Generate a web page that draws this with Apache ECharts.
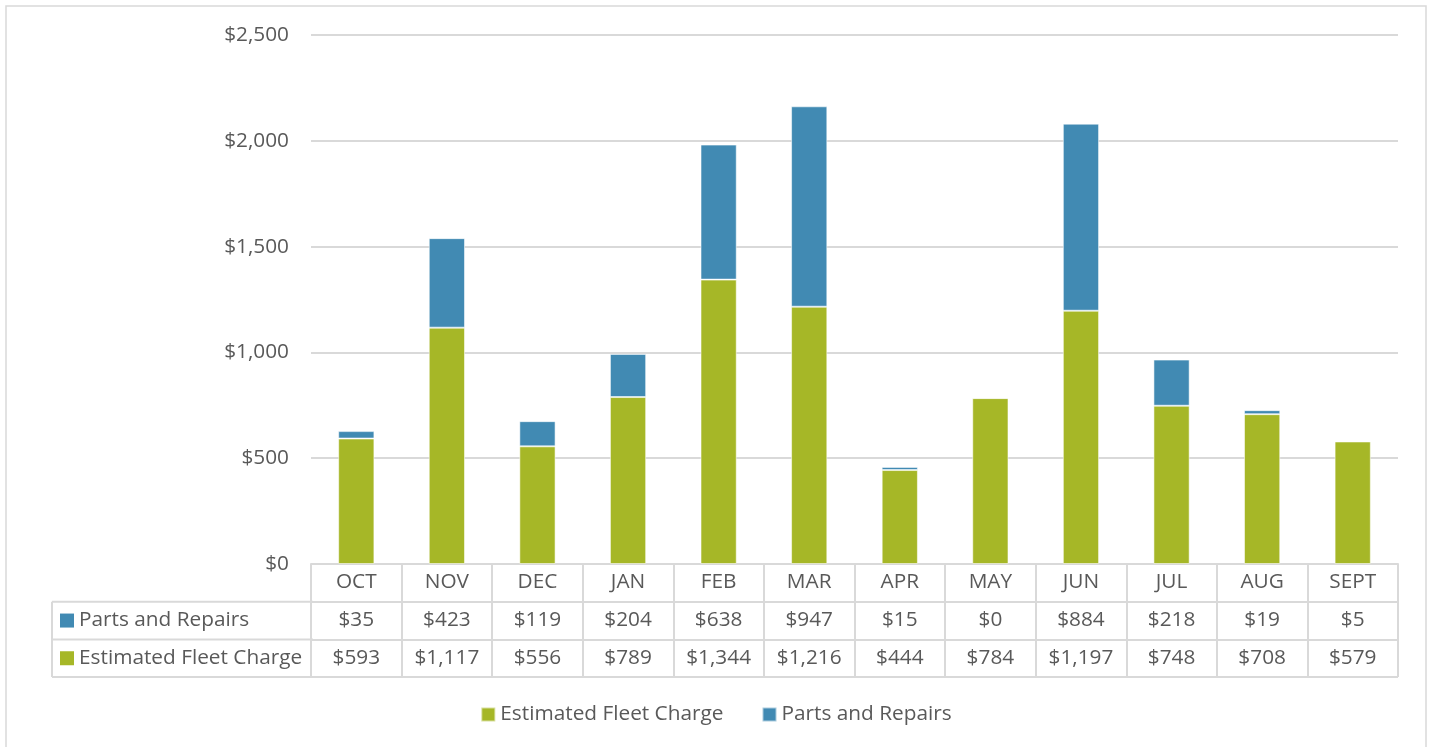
<!DOCTYPE html>
<html>
<head>
<meta charset="utf-8">
<script src="https://cdn.jsdelivr.net/npm/echarts@6/dist/echarts.min.js"></script>
<style>
html,body{margin:0;padding:0;background:#fff;}
#c{width:1432px;height:747px;}
</style>
</head>
<body>
<div id="c"></div>
<script>
var categories = ['OCT','NOV','DEC','JAN','FEB','MAR','APR','MAY','JUN','JUL','AUG','SEPT'];
var partsRepairs = [35, 423, 119, 204, 638, 947, 15, 0, 884, 218, 19, 5];
var fleetCharge = [593, 1117, 556, 789, 1344, 1216, 444, 784, 1197, 748, 708, 579];
var yTicks = [0, 500, 1000, 1500, 2000, 2500];

var FONT = 'Open Sans';
var FS = 20.8;
var TXT = '#595959';
var LINE = '#d9d9d9';
var GREEN = '#A6B727';
var BLUE = '#418AB3';

var gridLeft = 311, gridRight = 34, gridTop = 35, gridBottom = 183;
var W = 1432, H = 747;
var rowH = 37.7;
var tableLeft = 52;
var axisY = H - gridBottom;

function money(v){ return '$' + v.toLocaleString('en-US'); }

var chart = echarts.init(document.getElementById('c'), null, {renderer:'canvas'});

function rowAxis(offset, values){
  return {
    type:'category', data: categories, position:'bottom', offset: offset,
    axisLine:{show:true, lineStyle:{color:LINE, width:2}},
    axisTick:{show:true, length: rowH, interval:0, lineStyle:{color:LINE, width:2}},
    axisLabel:{interval:0, margin: 8, color:TXT, fontFamily:FONT, fontSize:FS,
      formatter: values ? function(v, i){ return money(values[i]); } : null},
    splitLine:{show:false}
  };
}

var yr = axisY + rowH; // top of row 1
var font = FS + 'px "Open Sans"';
var g = [
  {type:'rect', shape:{x:6, y:6, width:1420, height:760}, style:{fill:null, stroke:LINE, lineWidth:1.5}, silent:true},
  {type:'line', shape:{x1:tableLeft, y1:yr, x2:gridLeft+2, y2:yr}, style:{stroke:LINE, lineWidth:2}},
  {type:'line', shape:{x1:tableLeft, y1:yr+rowH, x2:gridLeft+2, y2:yr+rowH}, style:{stroke:LINE, lineWidth:2}},
  {type:'line', shape:{x1:tableLeft, y1:yr+2*rowH, x2:W-gridRight, y2:yr+2*rowH}, style:{stroke:LINE, lineWidth:2}},
  {type:'line', shape:{x1:tableLeft, y1:yr, x2:tableLeft, y2:yr+2*rowH}, style:{stroke:LINE, lineWidth:2}},
  {type:'rect', shape:{x:60, y:yr+rowH/2-7, width:14, height:14}, style:{fill:BLUE}},
  {type:'text', x:79, y:yr+rowH/2, style:{text:'Parts and Repairs', fill:TXT, font:font, verticalAlign:'middle', align:'left'}},
  {type:'rect', shape:{x:60, y:yr+rowH*1.5-7, width:14, height:14}, style:{fill:GREEN}},
  {type:'text', x:79, y:yr+rowH*1.5, style:{text:'Estimated Fleet Charge', fill:TXT, font:font, verticalAlign:'middle', align:'left'}}
];

chart.setOption({
  animation:false,
  textStyle:{fontFamily:FONT},
  grid:{left:gridLeft, right:gridRight, top:gridTop, bottom:gridBottom, containLabel:false},
  legend:{
    bottom: 17, left:'center', itemWidth:14, itemHeight:14, itemGap:38, icon:'rect',
    textStyle:{color:TXT, fontFamily:FONT, fontSize:FS},
    data:['Estimated Fleet Charge','Parts and Repairs']
  },
  xAxis:[ rowAxis(0, null), rowAxis(rowH, partsRepairs), rowAxis(rowH*2, fleetCharge) ],
  yAxis:{
    type:'value', min:yTicks[0], max:yTicks[yTicks.length-1], interval:500,
    axisLine:{show:false}, axisTick:{show:false},
    axisLabel:{color:TXT, fontFamily:FONT, fontSize:FS, margin:22, formatter:function(v){return money(v);}},
    splitLine:{lineStyle:{color:LINE, width:2}}
  },
  series:[
    {name:'Estimated Fleet Charge', type:'bar', stack:'t', data:fleetCharge, barWidth:'40%',
      itemStyle:{color:GREEN, borderColor:'rgba(255,255,255,0.55)', borderWidth:1}, xAxisIndex:0},
    {name:'Parts and Repairs', type:'bar', stack:'t', data:partsRepairs, barWidth:'40%',
      itemStyle:{color:BLUE, borderColor:'rgba(255,255,255,0.55)', borderWidth:1}, xAxisIndex:0}
  ],
  graphic:g
});
</script>
</body>
</html>
